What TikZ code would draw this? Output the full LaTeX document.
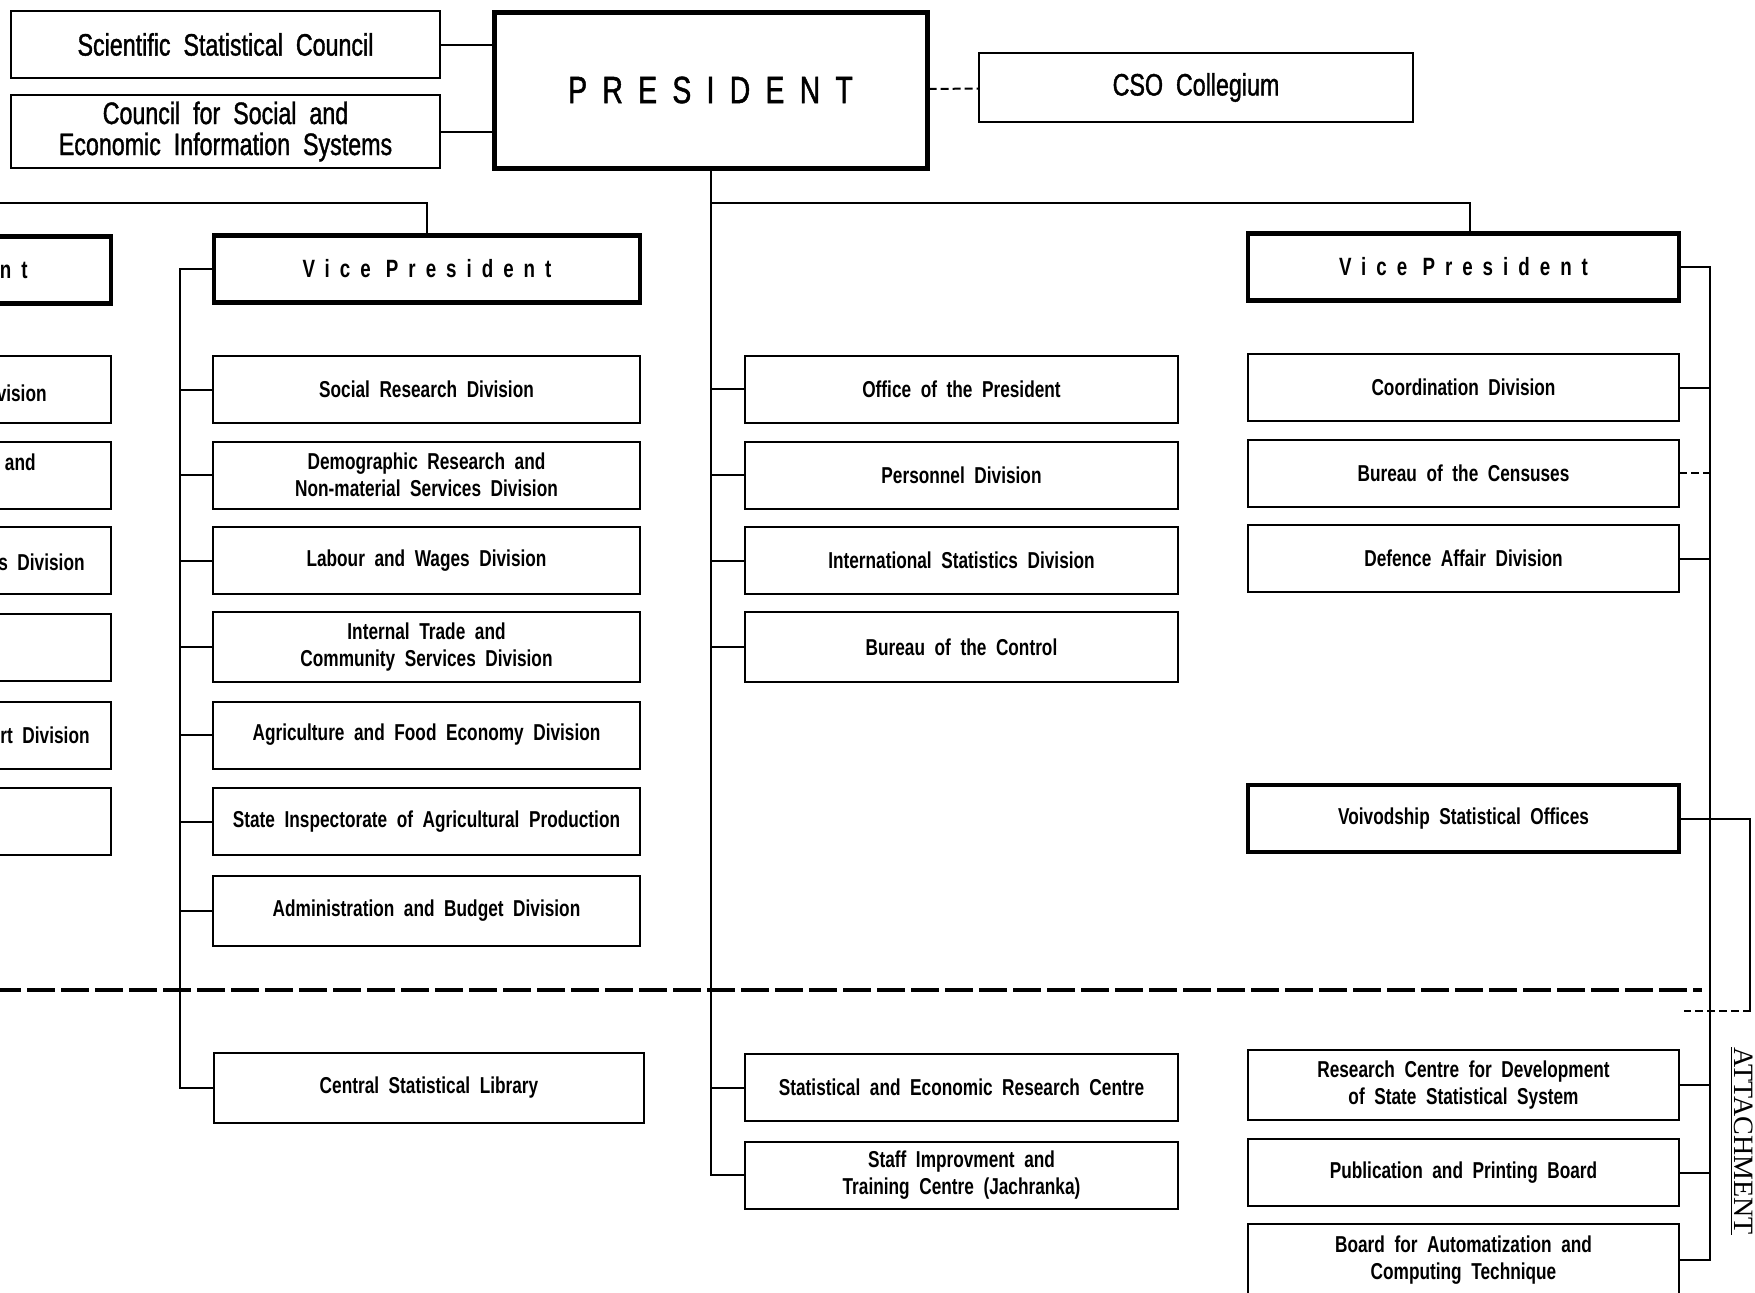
\documentclass[tikz,border=0pt]{standalone}
\usepackage{fontspec}
\setmainfont{Liberation Sans}[FakeStretch=0.75, WordSpace=2]
\newfontfamily\spacedfont{Liberation Sans}[FakeStretch=0.75, LetterSpace=40]
\newfontfamily\mediumfont{Liberation Sans}[FakeStretch=0.75, WordSpace=2, FakeBold=1.2]
\newfontfamily\chiefspaced{Liberation Sans}[FakeStretch=0.75, LetterSpace=40, FakeBold=1.2]
\newfontfamily\attfont{Liberation Serif}
\newcommand{\unitfont}{\fontsize{11.5}{13.5}\selectfont\bfseries}
\newcommand{\councilfont}{\mediumfont\fontsize{15.5}{15.5}\selectfont}
\newcommand{\headfont}{\spacedfont\fontsize{12.5}{14}\selectfont\bfseries}
\newcommand{\chieffont}{\chiefspaced\fontsize{19}{22}\selectfont}

\begin{document}
\begin{tikzpicture}[x=0.5pt, y=-0.5pt, line cap=rect]
  \tikzstyle{divbox}=[draw, line width=1pt, minimum width=215pt, minimum height=33.5pt, align=center, inner sep=1pt, font=\unitfont]
  \tikzstyle{headbox}=[divbox, line width=2.2pt, font=\headfont]
  \tikzstyle{councilbox}=[divbox, font=\councilfont]
  \tikzstyle{link}=[line width=1pt]
  \tikzstyle{divider}=[line width=2pt, dash pattern=on 12pt off 5pt]

  \useasboundingbox (0,0) rectangle (1755,1292);
  \clip (0,0) rectangle (1755,1292);

  % top row
  \node[councilbox, minimum width=214.5pt] (ssc) at (225.5,44.5) {Scientific Statistical Council};
  \node[councilbox, minimum width=214.5pt, minimum height=36.5pt] (csei) at (225.5,131.5) {Council for Social and\\Economic Information Systems};
  \node[divbox, line width=2.5pt, minimum width=216.5pt, minimum height=78pt, font=\chieffont] (pres) at (710.5,90) {PRESIDENT};
  \node[councilbox, minimum width=217pt, minimum height=34.5pt] (cso) at (1196,87.5) {CSO Collegium};

  % column cut off at the left edge
  \node[headbox] (fvp) at (-104,270) {};
  \node[divbox] (fa) at (-104,389.5) {};
  \node[divbox] (fb) at (-104,475) {};
  \node[divbox] (fc) at (-104,560.5) {};
  \node[divbox] (fd) at (-104,647) {};
  \node[divbox] (fe) at (-104,735) {};
  \node[divbox] (ff) at (-104,821.5) {};
  \node[anchor=east, inner sep=0pt, font=\headfont] (fvptext) at (28,270) {nt};
  \node[anchor=east, inner sep=0pt, font=\unitfont] (fatext) at (47,393) {vision};
  \node[anchor=east, inner sep=0pt, font=\unitfont] (fbtext) at (36,462) {and};
  \node[anchor=east, inner sep=0pt, font=\unitfont] (fctext) at (85,562) {s Division};
  \node[anchor=east, inner sep=0pt, font=\unitfont] (fetext) at (90,735) {rt Division};

  % left vice president
  \node[headbox, minimum width=213pt] (vpl) at (427,269) {Vice President};
  \node[divbox, minimum width=213.5pt] (social) at (426.5,389.5) {Social Research Division};
  \node[divbox, minimum width=213.5pt] (demo) at (426.5,475) {Demographic Research and\\Non-material Services Division};
  \node[divbox, minimum width=213.5pt] (labour) at (426.5,560.5) {Labour and Wages Division};
  \node[divbox, minimum width=213.5pt, minimum height=35pt] (trade) at (426.5,647) {Internal Trade and\\Community Services Division};
  \node[divbox, minimum width=213.5pt] (agri) at (426.5,735) {Agriculture and Food Economy Division};
  \node[divbox, minimum width=213.5pt] (inspect) at (426.5,821.5) {State Inspectorate of Agricultural Production};
  \node[divbox, minimum width=213.5pt, minimum height=35pt] (admin) at (426.5,910.5) {Administration and Budget Division};
  \node[divbox, minimum width=215pt, minimum height=35pt] (library) at (429,1088) {Central Statistical Library};

  % units under the president
  \node[divbox, minimum width=216.5pt] (office) at (961.5,389) {Office of the President};
  \node[divbox, minimum width=216.5pt] (staffdiv) at (961.5,475) {Personnel Division};
  \node[divbox, minimum width=216.5pt] (intl) at (961.5,560.5) {International Statistics Division};
  \node[divbox, minimum width=216.5pt, minimum height=35pt] (control) at (961.5,647) {Bureau of the Control};
  \node[divbox, minimum width=216.5pt] (serc) at (961.5,1087.5) {Statistical and Economic Research Centre};
  \node[divbox, minimum width=216.5pt] (train) at (961.5,1175) {Staff Improvment and\\Training Centre (Jachranka)};

  % right vice president
  \node[headbox, minimum width=215.5pt] (vpr) at (1463.5,267) {Vice President};
  \node[divbox, minimum width=215.5pt] (coord) at (1463.5,387.5) {Coordination Division};
  \node[divbox, minimum width=215.5pt] (census) at (1463.5,473) {Bureau of the Censuses};
  \node[divbox, minimum width=215.5pt] (defence) at (1463.5,558.5) {Defence Affair Division};
  \node[divbox, line width=1.8pt, minimum width=215.5pt] (voivod) at (1463.5,818.5) {Voivodship Statistical Offices};
  \node[divbox, minimum width=215.5pt, minimum height=35pt] (rcdev) at (1463.5,1085) {Research Centre for Development\\of State Statistical System};
  \node[divbox, minimum width=215.5pt] (publ) at (1463.5,1172.5) {Publication and Printing Board};
  \node[divbox, minimum width=215.5pt, minimum height=36pt] (board) at (1463.5,1260) {Board for Automatization and\\Computing Technique};

  \node[rotate=-90, anchor=base, inner sep=0pt, font=\attfont\fontsize{14}{16}\selectfont] (attach) at (1734,1141) {\underline{ATTACHMENT}};

  \coordinate (top) at (-5,203);
  \coordinate (lbus) at (180,0);
  \coordinate (rbus) at (1710,0);
  \coordinate (vturn) at (1750,1011);
  \coordinate (vend) at (1685,1011);
  \coordinate (divL) at (-5,990);
  \coordinate (divR) at (1700,990);

  % connections
  \draw[link] (ssc) -- (ssc -| pres.west);
  \draw[link] (csei) -- (csei -| pres.west);
  \draw[link, dashed] (pres) -- (cso);
  \draw[link] (pres.south) |- (train.west);
  \draw[link] (top) -| (vpl.north);
  \draw[link] (top -| pres.south) -| ([xshift=3pt]vpr.north);
  \draw[link] (vpl.west) -- (vpl.west -| lbus) |- (library.west);
  \foreach \n in {social,demo,labour,trade,agri,inspect,admin}
    \draw[link] (\n.west) -- (\n.west -| lbus);
  \foreach \n in {office,staffdiv,intl,control,serc}
    \draw[link] (\n.west) -- (\n.west -| pres.south);
  \draw[link] (vpr.east) -- (vpr.east -| rbus) |- (board.east);
  \foreach \n in {coord,defence,voivod,rcdev,publ}
    \draw[link] (\n.east) -- (\n.east -| rbus);
  \draw[link, dashed] (census.east) -- (census.east -| rbus);
  \draw[link] (voivod.east) -| (vturn);
  \draw[link, dashed] (vturn) -- (vend);
  \draw[divider] (divL) -- (divR);
\end{tikzpicture}
\end{document}
